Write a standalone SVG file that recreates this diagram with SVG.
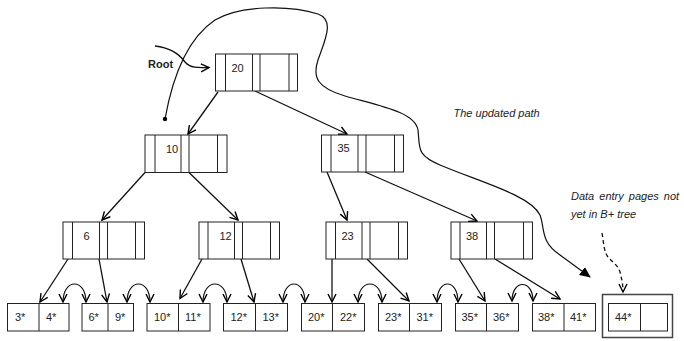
<svg xmlns="http://www.w3.org/2000/svg" width="684" height="341" viewBox="0 0 684 341">
<defs>
<marker id="v" markerUnits="userSpaceOnUse" markerWidth="12" markerHeight="12" refX="9" refY="5" orient="auto-start-reverse" viewBox="0 0 12 10">
<path d="M1,1 L9,5 L1,9" fill="none" stroke="#000" stroke-width="1.4"/>
</marker>
<marker id="f" markerUnits="userSpaceOnUse" markerWidth="12" markerHeight="12" refX="10" refY="5" orient="auto" viewBox="0 0 12 10">
<path d="M0,0 L11,5 L0,10 Z" fill="#000"/>
</marker>
</defs>
<style>
.box{fill:#fff;stroke:#222;stroke-width:1}
.div{stroke:#222;stroke-width:1}
.t{font-family:"Liberation Sans",Arial,sans-serif;font-size:11px;fill:#222}
.i{font-family:"Liberation Sans",Arial,sans-serif;font-size:11px;font-style:italic;fill:#222}
.e{fill:none;stroke:#111;stroke-width:1.3;marker-end:url(#v)}
.arc{fill:none;stroke:#111;stroke-width:1.2;marker-start:url(#v);marker-end:url(#v)}
</style>
<rect width="684" height="341" fill="#fff"/>

<g id="connectors">
<path class="e" d="M218,92 L188,134"/>
<path class="e" d="M255,91 L347,134"/>
<path class="e" d="M145,172.5 L102,220"/>
<path class="e" d="M189,172.5 L238,220"/>
<path class="e" d="M327,172 L347,220"/>
<path class="e" d="M365,172 L477,221"/>
<path class="e" d="M68,259 L40,302"/>
<path class="e" d="M99,259 L107,302"/>
<path class="e" d="M202,259 L180,298.5"/>
<path class="e" d="M241,259 L254,302"/>
<path class="e" d="M332,259 L332,302"/>
<path class="e" d="M367,259 L409,301"/>
<path class="e" d="M459,259 L485,301"/>
<path class="e" d="M495,259 L560,299"/>
<path class="arc" d="M63,302 C63,278 86,278 86,302"/>
<path class="arc" d="M127,302 C127,278 150,278 150,302"/>
<path class="arc" d="M203,302 C203,278 227,278 227,302"/>
<path class="arc" d="M283,302 C283,278 305,278 305,302"/>
<path class="arc" d="M358,302 C358,278 382,278 382,302"/>
<path class="arc" d="M437,302 C437,278 458,278 458,302"/>
<path class="arc" d="M512,301 C512,279 533,279 533,301"/>
<path d="M155,46 C172,48 180,55 185,62 C190,68 198,68 209,67.5" fill="none" stroke="#111" stroke-width="1.3" marker-end="url(#v)"/>
<path d="M165,119 C172,80 185,40 215,20 C240,5 290,5 318,14 C335,20 325,40 318,60 C312,78 318,88 345,96 C380,106 415,112 418,130 C420,148 416,155 440,165 C480,182 530,195 540,215 C545,228 540,242 560,255 L590,277" fill="none" stroke="#111" stroke-width="1.2" marker-end="url(#f)"/>
<circle cx="165" cy="119" r="2.2" fill="#000"/>
<path d="M602,233 C604,245 604,252 608,257 C612,262 618,265 620,272 C622,280 623,285 623,292" fill="none" stroke="#111" stroke-width="1.3" stroke-dasharray="4,3" marker-end="url(#v)"/>
</g>

<g id="n20">
<rect class="box" x="215.5" y="54" width="82" height="37"/>
<path class="div" d="M225.5,54V91M252.5,54V91M260,54V91M289,54V91"/>
<text class="t" x="231.5" y="72">20</text>
</g>
<g id="n10">
<rect class="box" x="145" y="135" width="82" height="37.5"/>
<path class="div" d="M155,135V172.5M181,135V172.5M189,135V172.5M217.5,135V172.5"/>
<text class="t" x="166" y="153">10</text>
</g>
<g id="n35">
<rect class="box" x="321.5" y="135" width="82" height="37"/>
<path class="div" d="M331,135V172M358,135V172M366,135V172M394.5,135V172"/>
<text class="t" x="337.5" y="152">35</text>
</g>
<g id="n6">
<rect class="box" x="63" y="222" width="81.5" height="37"/>
<path class="div" d="M72.5,222V259M99.5,222V259M107.5,222V259M135.5,222V259"/>
<text class="t" x="83.5" y="240">6</text>
</g>
<g id="n12">
<rect class="box" x="199" y="222" width="80.5" height="37"/>
<path class="div" d="M208,222V259M234.5,222V259M242.5,222V259M270.5,222V259"/>
<text class="t" x="219.5" y="240">12</text>
</g>
<g id="n23">
<rect class="box" x="326" y="222" width="81.5" height="37"/>
<path class="div" d="M335.5,222V259M362,222V259M370,222V259M398.5,222V259"/>
<text class="t" x="341.5" y="240">23</text>
</g>
<g id="n38">
<rect class="box" x="451" y="222" width="81.5" height="37"/>
<path class="div" d="M460,222V259M486.5,222V259M494.5,222V259M523.5,222V259"/>
<text class="t" x="466" y="240">38</text>
</g>

<g id="leaf1">
<rect class="box" x="7.5" y="303.5" width="61.5" height="27.5"/>
<path class="div" d="M39,303.5V331"/>
<text class="t" x="15" y="321">3*</text><text class="t" x="46" y="321">4*</text>
</g>
<g id="leaf2">
<rect class="box" x="82" y="303.5" width="51.5" height="27.5"/>
<path class="div" d="M108,303.5V331"/>
<text class="t" x="88.5" y="321">6*</text><text class="t" x="115" y="321">9*</text>
</g>
<g id="leaf3">
<rect class="box" x="147" y="303.5" width="63" height="27.5"/>
<path class="div" d="M178.5,303.5V331"/>
<text class="t" x="154" y="321">10*</text><text class="t" x="185" y="321">11*</text>
</g>
<g id="leaf4">
<rect class="box" x="223.5" y="303.5" width="64" height="27.5"/>
<path class="div" d="M255.5,303.5V331"/>
<text class="t" x="230.5" y="321">12*</text><text class="t" x="262.5" y="321">13*</text>
</g>
<g id="leaf5">
<rect class="box" x="301.5" y="303.5" width="63" height="27.5"/>
<path class="div" d="M332.5,303.5V331"/>
<text class="t" x="308" y="321">20*</text><text class="t" x="340" y="321">22*</text>
</g>
<g id="leaf6">
<rect class="box" x="378.5" y="303.5" width="63" height="27.5"/>
<path class="div" d="M409.5,303.5V331"/>
<text class="t" x="385" y="321">23*</text><text class="t" x="416.5" y="321">31*</text>
</g>
<g id="leaf7">
<rect class="box" x="455.5" y="303.5" width="63" height="27.5"/>
<path class="div" d="M486.5,303.5V331"/>
<text class="t" x="461.5" y="321">35*</text><text class="t" x="493" y="321">36*</text>
</g>
<g id="leaf8">
<rect class="box" x="532.5" y="303.5" width="63" height="27.5"/>
<path class="div" d="M564,303.5V331"/>
<text class="t" x="538" y="321">38*</text><text class="t" x="570" y="321">41*</text>
</g>
<g id="leaf44">
<rect x="602.5" y="294.5" width="70" height="43" fill="#fff" stroke="#444" stroke-width="1.5"/>
<rect class="box" x="608.5" y="303.5" width="59" height="27.5"/>
<path class="div" d="M640.5,303.5V331"/>
<text class="t" x="615" y="321">44*</text>
</g>

<g id="labels">
<text x="148" y="68" font-family="'Liberation Sans',Arial,sans-serif" font-size="11" font-weight="bold" fill="#222">Root</text>
<text class="i" x="453.5" y="117">The updated path</text>
<text class="i" x="571" y="200" word-spacing="2">Data entry pages not</text>
<text class="i" x="571" y="218">yet in B+ tree</text>
</g>
</svg>
